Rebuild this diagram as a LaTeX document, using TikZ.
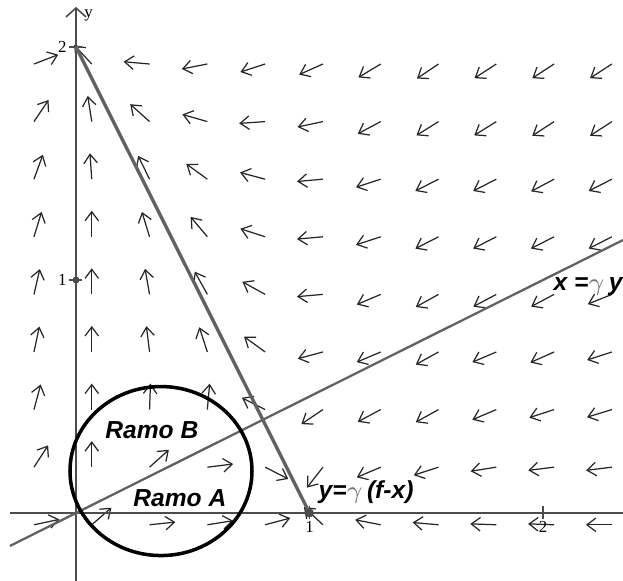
\documentclass[tikz,border=0pt]{standalone}
\usepackage{fontspec}
\setmainfont{Liberation Serif}
\setsansfont{Liberation Sans}
\usetikzlibrary{arrows.meta}

\tikzset{
  vec/.style={draw=black!85,line width=0.35pt,-{Straight Barb[length=0.9mm,width=1.35mm]}},
  axis/.style={draw=black!70,line width=0.45pt},
  nullc/.style={draw=black!62,line width=0.95pt},
  lbl/.style={font=\sffamily\bfseries\itshape\fontsize{7}{8}\selectfont,inner sep=0pt},
  ticklbl/.style={font=\fontsize{4.8}{5}\selectfont,inner sep=0.5pt},
}
\newcommand{\gam}{\textcolor{black!55}{$\gamma$}}

\begin{document}
\begin{tikzpicture}[x=2.335cm,y=2.33cm]
\useasboundingbox (-0.3255,-0.2918) rectangle (2.3426,2.2017);

% direction field, one row per line (angles in degrees)
\foreach \r/\angs in {
  1/{21,133,175,191,198,204,211,214,213,213,213},
  2/{56,99,138,164,184,192,208,212,212,213,213},
  3/{70,94,116,144,165,185,198,207,207,208,207},
  4/{73,90,107,130,162,185,198,207,207,207,207},
  5/{77,90,100,119,151,185,203,209,208,208,202},
  6/{78,90,97,108,144,195,203,209,203,204,198},
  7/{75,90,88,85,153,214,208,209,203,198,197},
  8/{57,90,42,7,333,232,203,198,189,187,187},
  9/{12,41,6,9,15,137,169,175,178,178,180}}
  \foreach \a [count=\c] in \angs
    \draw[vec] ({-0.18+0.2475*(\c-1)},{1.927-0.2472*(\r-1)}) -- ++(\a:0.26cm);

% axes
\coordinate (xl) at (-0.283,0);
\coordinate (xr) at (2.343,0);
\coordinate (yb) at (0,-0.292);
\coordinate (yt) at (0,2.172);
\draw[axis] (xl) -- (xr);
\draw[axis,-{Straight Barb[length=0.9mm,width=2mm]}] (yb) -- (yt);
\node[ticklbl,anchor=west] (ylab) at (0.025,2.135) {y};

% ticks
\foreach \t in {1,2} {
  \draw[axis] (-0.03,\t) -- (0.025,\t);
  \draw[axis] (\t,-0.025) -- (\t,0.03);
  \node[ticklbl,anchor=east] (ty\t) at (-0.03,\t) {\t};
  \node[ticklbl,anchor=north] (tx\t) at (\t,-0.025) {\t};
}

% nullclines
\coordinate (top) at (0,2);
\coordinate (foot) at (1,0);
\coordinate (la) at (-0.283,-0.1415);
\coordinate (lb) at (2.343,1.1715);
\draw[nullc] (top) -- (foot);
\draw[nullc,line width=0.65pt] (la) -- (lb);
\fill[black!70] (foot) circle (0.045cm);
\fill[black!70] (0,1) circle (0.035cm);

% region round the origin
\coordinate (ctr) at (0.364,0.180);
\draw[line width=1pt] (ctr) ellipse [x radius=0.91cm, y radius=0.845cm];

% labels
\node[lbl] (ramoB) at (0.325,0.356) {Ramo B};
\node[lbl] (ramoA) at (0.445,0.064) {Ramo A};
\node[lbl] (eqA) at (1.242,0.09) {y=\gam\,(f-x)};
\node[lbl] (eqB) at (2.193,0.974) {x =\gam\,y};
\end{tikzpicture}
\end{document}
